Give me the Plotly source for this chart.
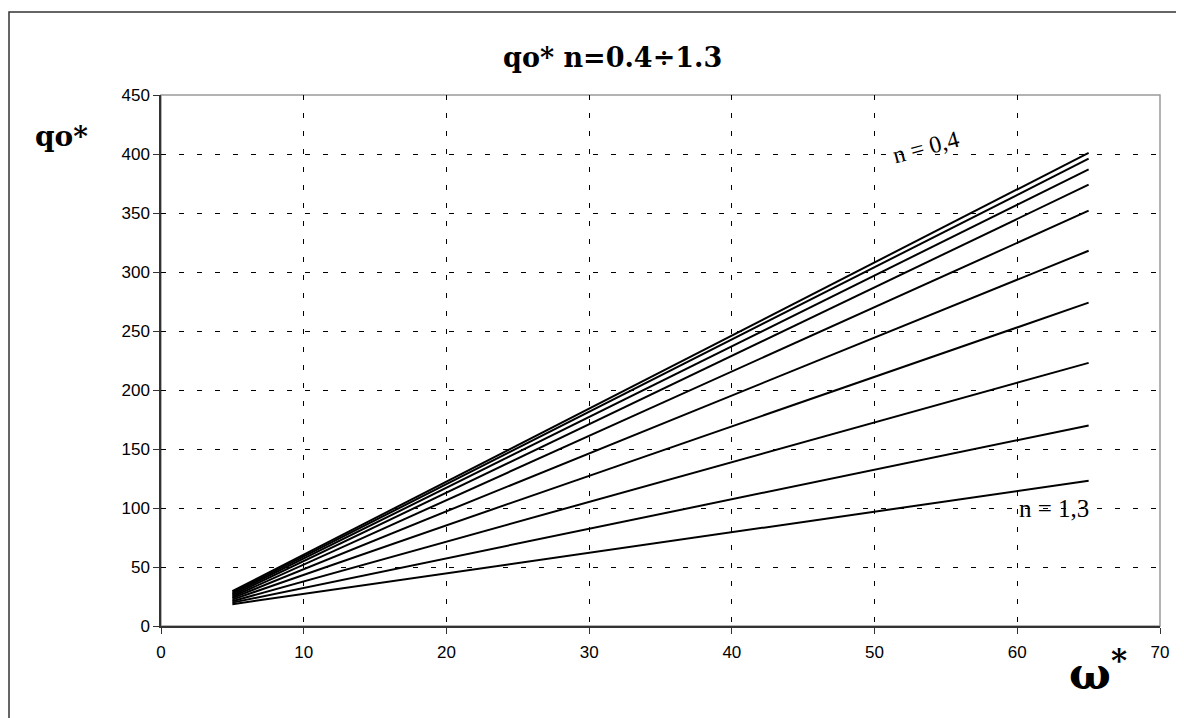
import plotly.graph_objects as go

# Data
omega = [5, 65]
n_labels = ["0.4", "0.5", "0.6", "0.7", "0.8", "0.9", "1.0", "1.1", "1.2", "1.3"]
q_start = [29.5, 28.3, 27.2, 26.0, 24.8, 23.6, 22.4, 21.0, 19.8, 18.5]
q_end = [401, 396, 387, 374, 352, 318, 274, 223, 170, 123]

x_ticks = [0, 10, 20, 30, 40, 50, 60, 70]
y_ticks = [0, 50, 100, 150, 200, 250, 300, 350, 400, 450]

fig = go.Figure()
for n, a, b in zip(n_labels, q_start, q_end):
    fig.add_trace(go.Scatter(
        x=omega, y=[a, b], mode="lines", name="n=" + n,
        line=dict(color="black", width=2), showlegend=False,
    ))

W, H = 1184, 718
OFF = 8  # page body offset
L, R, T, B = 161, 1160, 95, 626
pw, ph = R - L, B - T

def px(xp):
    return (xp - L) / pw

def py(yp):
    return (B - yp) / ph

axis_common = dict(
    showline=True, linecolor="#333333", linewidth=1.5,
    ticks="outside", ticklen=6, tickcolor="#333333", tickwidth=1,
    showgrid=True, gridcolor="black", gridwidth=1, griddash="5px,13px",
    zeroline=False,
    tickfont=dict(family="Liberation Sans, Arial, sans-serif", size=17, color="black"),
)

fig.update_xaxes(range=[0, 70], tickvals=x_ticks, ticklabelstandoff=4, **axis_common)
fig.update_yaxes(range=[0, 450], tickvals=y_ticks, **axis_common)

shapes = [
    dict(type="rect", xref="paper", yref="paper", x0=0, x1=1, y0=0, y1=1,
         line=dict(color="#9a9a9a", width=1.5), layer="below"),
    dict(type="rect", xref="paper", yref="paper",
         x0=px(9), x1=px(W + 40), y0=py(H + 40), y1=py(12),
         line=dict(color="#333333", width=1.5), layer="below"),
]

annotations = [
    dict(text="<b>qo* n=0.4÷1.3</b>", xref="paper", yref="paper",
         x=px(612), y=py(58), xanchor="center", yanchor="middle", showarrow=False,
         font=dict(family="DejaVu Serif, serif", size=27, color="black")),
    dict(text="<b>qo*</b>", xref="paper", yref="paper",
         x=px(61), y=py(136), xanchor="center", yanchor="middle", showarrow=False,
         font=dict(family="DejaVu Serif, serif", size=28, color="black")),
    dict(text="<b>ω<sup>*</sup></b>", xref="paper", yref="paper",
         x=px(1098), y=py(670), xanchor="center", yanchor="middle", showarrow=False,
         font=dict(family="DejaVu Serif, serif", size=44, color="black")),
    dict(text="n = 0,4", xref="x", yref="y", x=53.6, y=406,
         textangle=-15, showarrow=False, xanchor="center", yanchor="middle",
         font=dict(family="Liberation Serif, Times New Roman, serif", size=24, color="black")),
    dict(text="n = 1,3", xref="x", yref="y", x=62.6, y=100,
         showarrow=False, xanchor="center", yanchor="middle",
         font=dict(family="Liberation Serif, Times New Roman, serif", size=25, color="black")),
]

fig.update_layout(
    width=W, height=H,
    margin=dict(l=L - OFF, r=W - (L - OFF) - pw, t=T - OFF, b=H - (T - OFF) - ph),
    paper_bgcolor="white", plot_bgcolor="white",
    shapes=shapes, annotations=annotations,
)

fig.write_html("out.html")
